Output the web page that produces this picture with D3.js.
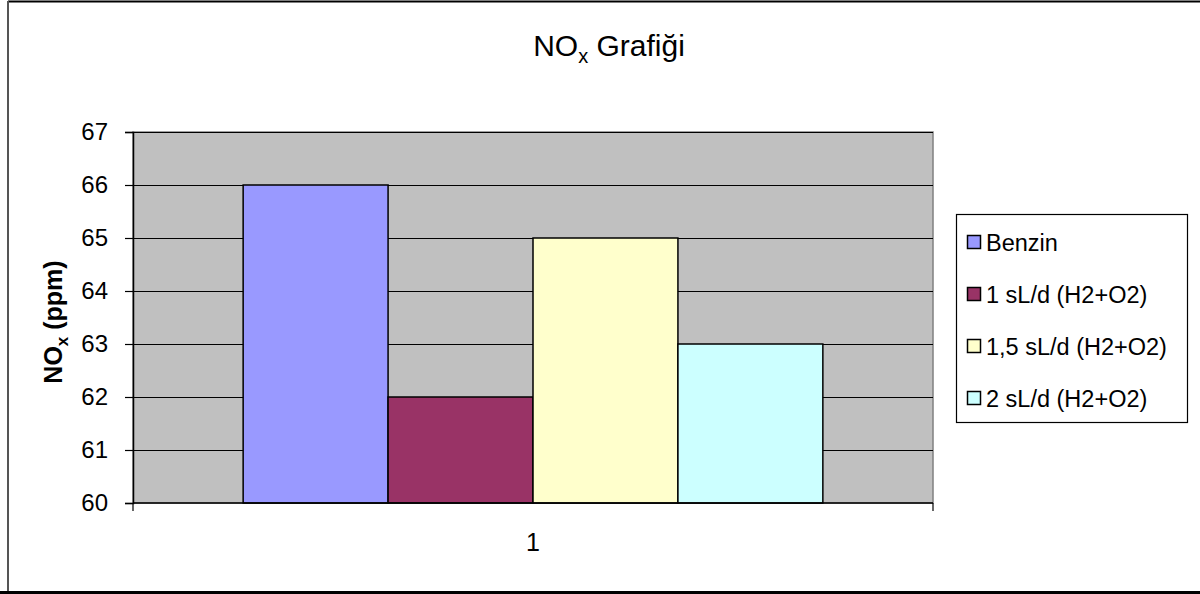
<!DOCTYPE html>
<html>
<head>
<meta charset="utf-8">
<script src="https://cdn.jsdelivr.net/npm/d3@7"></script>
<style>
  html, body { margin: 0; padding: 0; background: #ffffff; }
  svg { display: block; font-family: "Liberation Sans", Arial, sans-serif; }
</style>
</head>
<body>
<svg id="chart" width="1200" height="594"></svg>
<script>
// ---- data ----
const categories = ["1"];
const seriesNames = ["Benzin", "1 sL/d (H2+O2)", "1,5 sL/d (H2+O2)", "2 sL/d (H2+O2)"];
const seriesValues = [66, 62, 65, 63];
const seriesColors = ["#9999FF", "#993366", "#FFFFCC", "#CCFFFF"];
const yTicks = [60, 61, 62, 63, 64, 65, 66, 67];
const titleMain = "NO";
const titleSub = "x";
const titleRest = " Grafiği";
const yLabelRest = " (ppm)";

// ---- layout ----
const svg = d3.select("#chart");
const plot = { left: 133, right: 933, top: 132, bottom: 503 };

// outer chart border
svg.append("line").attr("x1", 8).attr("x2", 1200).attr("y1", 1.5).attr("y2", 1.5)
  .attr("stroke", "#000").attr("stroke-width", 2);
svg.append("line").attr("x1", 8).attr("x2", 8).attr("y1", 1).attr("y2", 593)
  .attr("stroke", "#555").attr("stroke-width", 2);
svg.append("line").attr("x1", 0).attr("x2", 1200).attr("y1", 592.5).attr("y2", 592.5)
  .attr("stroke", "#000").attr("stroke-width", 3);

// scales
const x0 = d3.scaleBand().domain(categories).range([plot.left, plot.right]).padding(0);
const x1 = d3.scaleBand().domain(seriesNames).range([0, x0.bandwidth()])
  .paddingInner(0).paddingOuter(0.76);
const y = d3.scaleLinear().domain([60, 67]).range([plot.bottom, plot.top]);

// plot area
svg.append("rect")
  .attr("x", plot.left).attr("y", plot.top)
  .attr("width", plot.right - plot.left).attr("height", plot.bottom - plot.top)
  .attr("fill", "#C0C0C0").attr("stroke", "#808080").attr("stroke-width", 1.5);

// gridlines
svg.append("g").selectAll("line").data(yTicks.filter(t => t > 60)).join("line")
  .attr("x1", plot.left).attr("x2", plot.right)
  .attr("y1", d => Math.round(y(d)) + 0.5).attr("y2", d => Math.round(y(d)) + 0.5)
  .attr("stroke", "#000").attr("stroke-width", 1);

// bars
const data = seriesNames.map((n, i) => ({ name: n, value: seriesValues[i], color: seriesColors[i], cat: categories[0] }));
svg.append("g").selectAll("rect").data(data).join("rect")
  .attr("x", d => x0(d.cat) + x1(d.name))
  .attr("y", d => y(d.value))
  .attr("width", x1.bandwidth())
  .attr("height", d => y(60) - y(d.value))
  .attr("fill", d => d.color)
  .attr("stroke", "#000").attr("stroke-width", 1.5);

// y axis
const yAxis = d3.axisLeft(y).tickValues(yTicks).tickSize(8).tickPadding(17).tickFormat(d3.format("d"));
const gy = svg.append("g").attr("transform", `translate(${plot.left},0)`).call(yAxis);
gy.select(".domain").attr("stroke", "#000").attr("stroke-width", 1.5);
gy.selectAll(".tick line").attr("stroke", "#000").attr("stroke-width", 1.2);
gy.selectAll(".tick text").attr("font-size", "24px").attr("fill", "#000")
  .attr("font-family", "Liberation Sans, Arial, sans-serif");

// x axis
const xAxis = d3.axisBottom(x0).tickSize(0).tickPadding(30);
const gx = svg.append("g").attr("transform", `translate(0,${plot.bottom})`).call(xAxis);
gx.select(".domain").remove();
gx.selectAll(".tick text").attr("font-size", "25px").attr("fill", "#000")
  .attr("font-family", "Liberation Sans, Arial, sans-serif");
svg.append("line").attr("x1", plot.left).attr("x2", plot.right)
  .attr("y1", plot.bottom).attr("y2", plot.bottom).attr("stroke", "#000").attr("stroke-width", 1.5);
// category edge ticks
svg.append("g").selectAll("line").data([plot.left, plot.right]).join("line")
  .attr("x1", d => d).attr("x2", d => d)
  .attr("y1", plot.bottom).attr("y2", plot.bottom + 8)
  .attr("stroke", "#000").attr("stroke-width", 1.2);

// title (regular weight)
const title = svg.append("text").attr("x", 609).attr("y", 56)
  .attr("text-anchor", "middle").attr("font-size", "30px").attr("fill", "#000");
title.append("tspan").text(titleMain);
title.append("tspan").attr("font-size", "20px").attr("dy", 7).text(titleSub);
title.append("tspan").attr("dy", -7).text(titleRest);

// y label
const yl = svg.append("text").attr("transform", "translate(62,322) rotate(-90)")
  .attr("text-anchor", "middle").attr("font-size", "25px").attr("font-weight", "bold").attr("fill", "#000");
yl.append("tspan").text(titleMain);
yl.append("tspan").attr("font-size", "17px").attr("dy", 6).text(titleSub);
yl.append("tspan").attr("dy", -6).text(yLabelRest);

// legend
const legend = svg.append("g");
legend.append("rect").attr("x", 956.5).attr("y", 214.5).attr("width", 231).attr("height", 208)
  .attr("fill", "#fff").attr("stroke", "#000").attr("stroke-width", 1.2);
const li = legend.selectAll("g.item").data(data).join("g").attr("class", "item")
  .attr("transform", (d, i) => `translate(0,${242 + i * 52})`);
li.append("rect").attr("x", 967.5).attr("y", -6.5).attr("width", 13).attr("height", 13)
  .attr("fill", d => d.color).attr("stroke", "#000").attr("stroke-width", 1.5);
li.append("text").attr("x", 986).attr("y", 8.5).attr("font-size", "23.5px").attr("fill", "#000")
  .text(d => d.name);
</script>
</body>
</html>
